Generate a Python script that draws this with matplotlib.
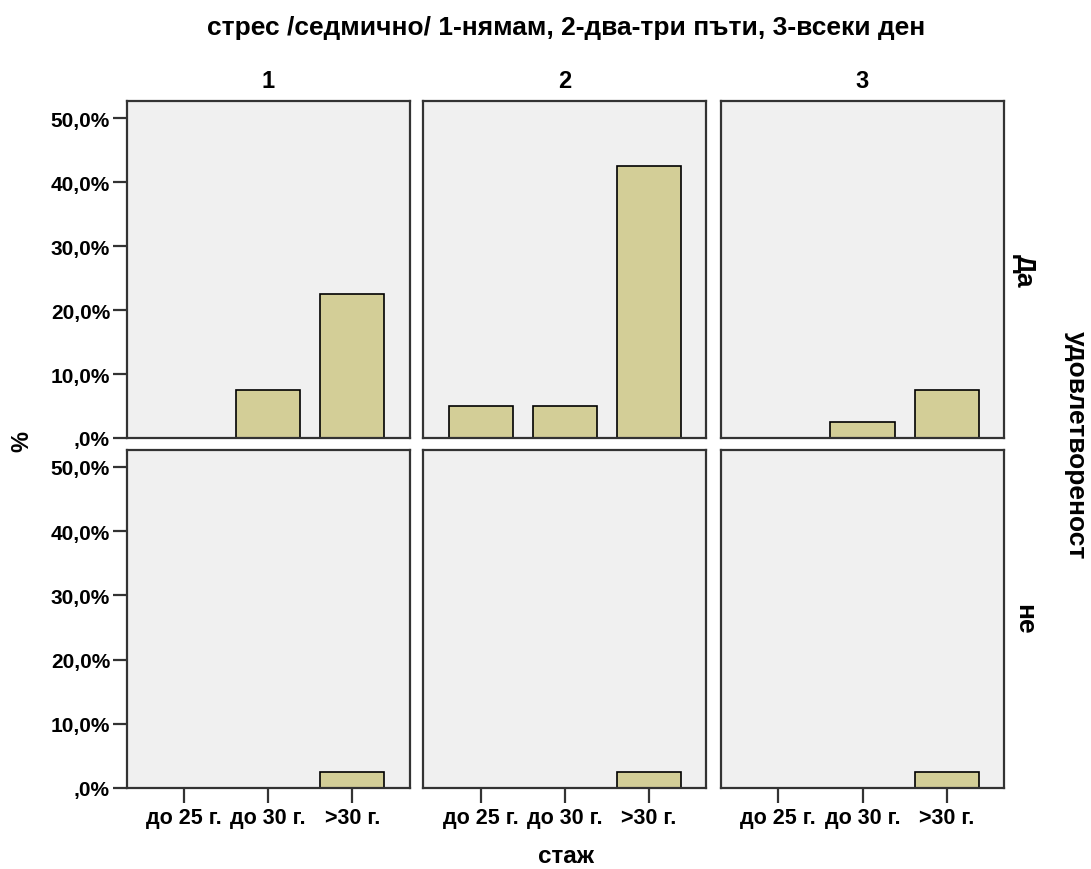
import matplotlib
matplotlib.use("Agg")
import matplotlib.pyplot as plt
import numpy as np

categories = ["до 25 г.", "до 30 г.", ">30 г."]
col_labels = ["1", "2", "3"]
row_labels = ["Да", "не"]
# percentages: values[row][col][category]
values_da = [[0.0, 7.5, 22.5], [5.0, 5.0, 42.5], [0.0, 2.5, 7.5]]
values_ne = [[0.0, 0.0, 2.5], [0.0, 0.0, 2.5], [0.0, 0.0, 2.5]]
yticks = [0, 10, 20, 30, 40, 50]
ytick_labels = [",0%", "10,0%", "20,0%", "30,0%", "40,0%", "50,0%"]

title = "стрес /седмично/ 1-нямам, 2-два-три пъти, 3-всеки ден"
xlabel = "стаж"
ylabel = "%"
row_title = "удовлетвореност"

plt.rcParams['font.family'] = ['Liberation Sans', 'DejaVu Sans']
plt.rcParams['font.weight'] = 'bold'

W, H = 1091, 870
fig = plt.figure(figsize=(W / 100, H / 100), dpi=100)

bar_color = "#D3CE97"
face = "#F0F0F0"
lefts = [126.7, 423.3, 721.0]
pw = 283.0
rows_px = [(102.0, 439.0), (450.5, 789.0)]

x = np.arange(len(categories))
all_vals = [values_da, values_ne]
for r in range(2):
    top, bot = rows_px[r]
    for c in range(3):
        ax = fig.add_axes([lefts[c] / W, 1 - bot / H, pw / W, (bot - top) / H])
        ax.set_facecolor(face)
        ax.bar(x, all_vals[r][c], width=0.76, color=bar_color,
               edgecolor="black", linewidth=1.2, zorder=2)
        ax.set_xlim(-0.68, 2.68)
        ax.set_ylim(0, 52.7)
        for s in ax.spines.values():
            s.set_color("#333333")
            s.set_linewidth(1.6)
        if c == 0:
            ax.set_yticks(yticks)
            ax.set_yticklabels(ytick_labels, fontsize=15, fontweight='bold')
            ax.tick_params(axis='y', length=10, width=1.6, color="#333333", pad=2)
        else:
            ax.set_yticks([])
        if r == 1:
            ax.set_xticks(x)
            ax.set_xticklabels(categories, fontsize=15.5, fontweight='bold')
            ax.tick_params(axis='x', length=10.5, width=1.6, color="#333333", pad=3)
        else:
            ax.set_xticks([])
        if r == 0:
            ax.set_title(col_labels[c], fontsize=17, fontweight='bold', pad=10)
        if c == 2:
            ax.text(1.07, 0.5, row_labels[r], transform=ax.transAxes,
                    rotation=-90, ha='center', va='center',
                    fontsize=19, fontweight='bold')

fig.text(566 / W, 1 - 34.7 / H, title, ha='center', va='baseline',
         fontsize=19, fontweight='bold')
fig.text(566 / W, 1 - 857 / H, xlabel, ha='center', va='center',
         fontsize=17.5, fontweight='bold')
fig.text(22 / W, 1 - 442 / H, ylabel, ha='center', va='center',
         rotation=90, fontsize=17, fontweight='bold')
fig.text(1076 / W, 1 - 445 / H, row_title, ha='center', va='center',
         rotation=-90, fontsize=19, fontweight='bold')

fig.savefig("out.png", dpi=100, facecolor="white")
